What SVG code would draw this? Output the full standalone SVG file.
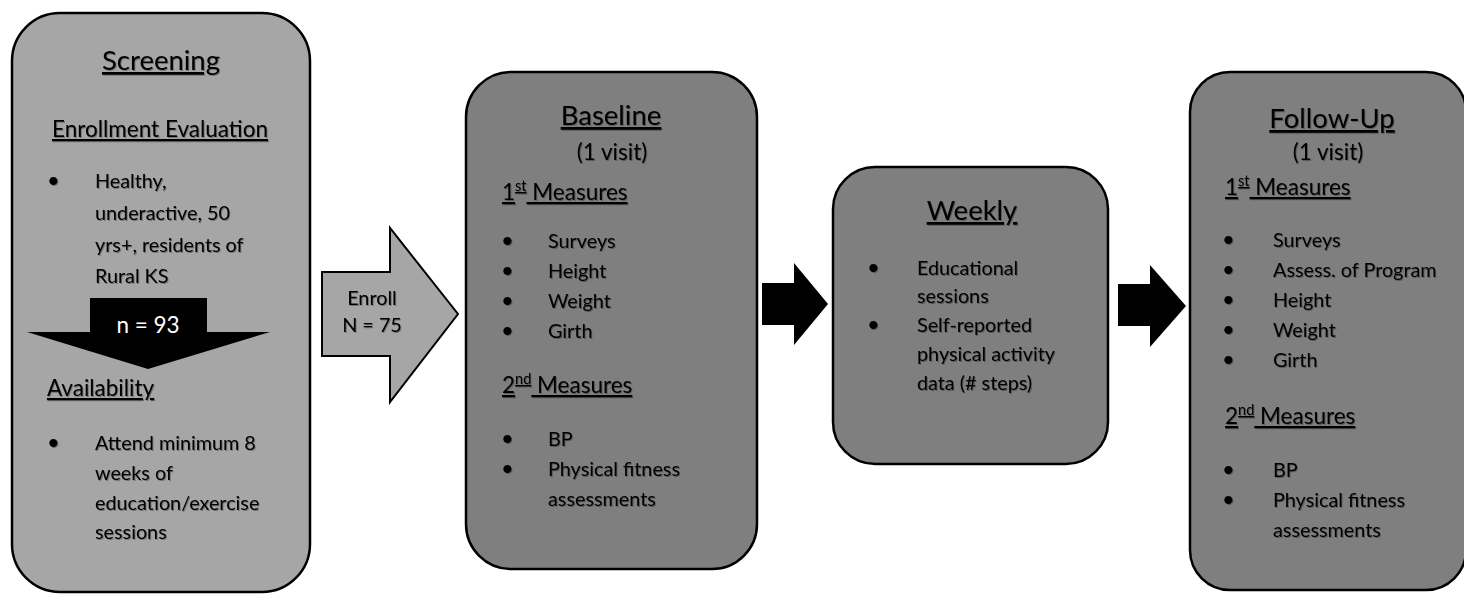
<svg xmlns="http://www.w3.org/2000/svg" width="1464" height="594" viewBox="0 0 1464 594">
  <defs>
    <filter id="soft" x="-5%" y="-20%" width="110%" height="140%">
      <feDropShadow dx="1" dy="1" stdDeviation="0.7" flood-color="#000" flood-opacity="0.3"/>
    </filter>
  </defs>
  <style>
    .box { stroke: #000; stroke-width: 2.5; }
    .light { fill: #a6a6a6; }
    .dark { fill: #7f7f7f; }
    text { font-family: Lato, "Liberation Sans", sans-serif; fill: #000; filter: url(#soft); }
    .title { font-size: 27.5px; text-anchor: middle; text-decoration: underline; }
    .sub { font-size: 22.5px; }
    .ul { text-decoration: underline; }
    .mid { text-anchor: middle; }
    .body { font-size: 19.8px; }
    .dot { font-size: 22px; }
    .sup { font-size: 14.5px; }
    .white { fill: #fff; filter: none; }
  </style>

  <g id="connectors">
    <!-- Screening -> Baseline (labelled block arrow) -->
    <polygon points="322,272 390,272 390,228 458,314 390,402 390,356 322,356" fill="#a6a6a6" stroke="#000" stroke-width="2"/>
    <text class="body mid" x="372" y="305">Enroll</text>
    <text class="body mid" x="372" y="332">N = 75</text>
    <!-- Baseline -> Weekly -->
    <polygon points="762,283 794,283 794,263 828,304 794,345 794,325 762,325" fill="#000"/>
    <!-- Weekly -> Follow-Up -->
    <polygon points="1118,284 1150,284 1150,265 1186,306 1150,347 1150,326 1118,326" fill="#000"/>
  </g>

  <g id="screening">
    <rect class="box light" x="12" y="13" width="298" height="579" rx="48" ry="48"/>
    <text class="title" x="161" y="70">Screening</text>
    <text class="sub ul mid" x="160" y="137">Enrollment Evaluation</text>
    <text class="dot" x="47" y="188">•</text>
    <text class="body" x="95" y="188">Healthy,</text>
    <text class="body" x="95" y="220">underactive, 50</text>
    <text class="body" x="95" y="252">yrs+, residents of</text>
    <text class="body" x="95" y="283">Rural KS</text>
    <!-- narrowing step inside the screening box -->
    <polygon points="90,298 207,298 207,332 270,332 148,369 27,332 90,332" fill="#000"/>
    <text class="sub mid white" x="148" y="333">n = 93</text>
    <text class="sub ul" x="47" y="396">Availability</text>
    <text class="dot" x="47" y="450">•</text>
    <text class="body" x="95" y="450">Attend minimum 8</text>
    <text class="body" x="95" y="480">weeks of</text>
    <text class="body" x="95" y="510">education/exercise</text>
    <text class="body" x="95" y="539">sessions</text>
  </g>

  <g id="baseline">
    <rect class="box dark" x="466" y="72" width="291" height="497" rx="45" ry="45"/>
    <text class="title" x="611" y="125">Baseline</text>
    <text class="sub mid" x="612" y="160">(1 visit)</text>
    <text class="sub ul" x="502" y="200">1<tspan class="sup" dy="-9">st</tspan><tspan dy="9"> Measures</tspan></text>
    <text class="dot" x="501" y="248">•</text>
    <text class="body" x="548" y="248">Surveys</text>
    <text class="dot" x="501" y="278">•</text>
    <text class="body" x="548" y="278">Height</text>
    <text class="dot" x="501" y="308">•</text>
    <text class="body" x="548" y="308">Weight</text>
    <text class="dot" x="501" y="338">•</text>
    <text class="body" x="548" y="338">Girth</text>
    <text class="sub ul" x="502" y="393">2<tspan class="sup" dy="-9">nd</tspan><tspan dy="9"> Measures</tspan></text>
    <text class="dot" x="501" y="446">•</text>
    <text class="body" x="548" y="446">BP</text>
    <text class="dot" x="501" y="476">•</text>
    <text class="body" x="548" y="476">Physical fitness</text>
    <text class="body" x="548" y="506">assessments</text>
  </g>

  <g id="weekly">
    <rect class="box dark" x="833" y="167" width="275" height="297" rx="42" ry="42"/>
    <text class="title" x="972" y="220">Weekly</text>
    <text class="dot" x="867" y="275">•</text>
    <text class="body" x="917" y="275">Educational</text>
    <text class="body" x="917" y="303">sessions</text>
    <text class="dot" x="867" y="332">•</text>
    <text class="body" x="917" y="332">Self-reported</text>
    <text class="body" x="917" y="361">physical activity</text>
    <text class="body" x="917" y="390">data (# steps)</text>
  </g>

  <g id="follow-up">
    <rect class="box dark" x="1190" y="72" width="276" height="518" rx="40" ry="40"/>
    <text class="title" x="1332" y="128">Follow-Up</text>
    <text class="sub mid" x="1328" y="160">(1 visit)</text>
    <text class="sub ul" x="1225" y="195">1<tspan class="sup" dy="-9">st</tspan><tspan dy="9"> Measures</tspan></text>
    <text class="dot" x="1222" y="247">•</text>
    <text class="body" x="1273" y="247">Surveys</text>
    <text class="dot" x="1222" y="277">•</text>
    <text class="body" x="1273" y="277">Assess. of Program</text>
    <text class="dot" x="1222" y="307">•</text>
    <text class="body" x="1273" y="307">Height</text>
    <text class="dot" x="1222" y="337">•</text>
    <text class="body" x="1273" y="337">Weight</text>
    <text class="dot" x="1222" y="367">•</text>
    <text class="body" x="1273" y="367">Girth</text>
    <text class="sub ul" x="1225" y="424">2<tspan class="sup" dy="-9">nd</tspan><tspan dy="9"> Measures</tspan></text>
    <text class="dot" x="1222" y="477">•</text>
    <text class="body" x="1273" y="477">BP</text>
    <text class="dot" x="1222" y="507">•</text>
    <text class="body" x="1273" y="507">Physical fitness</text>
    <text class="body" x="1273" y="537">assessments</text>
  </g>
</svg>
